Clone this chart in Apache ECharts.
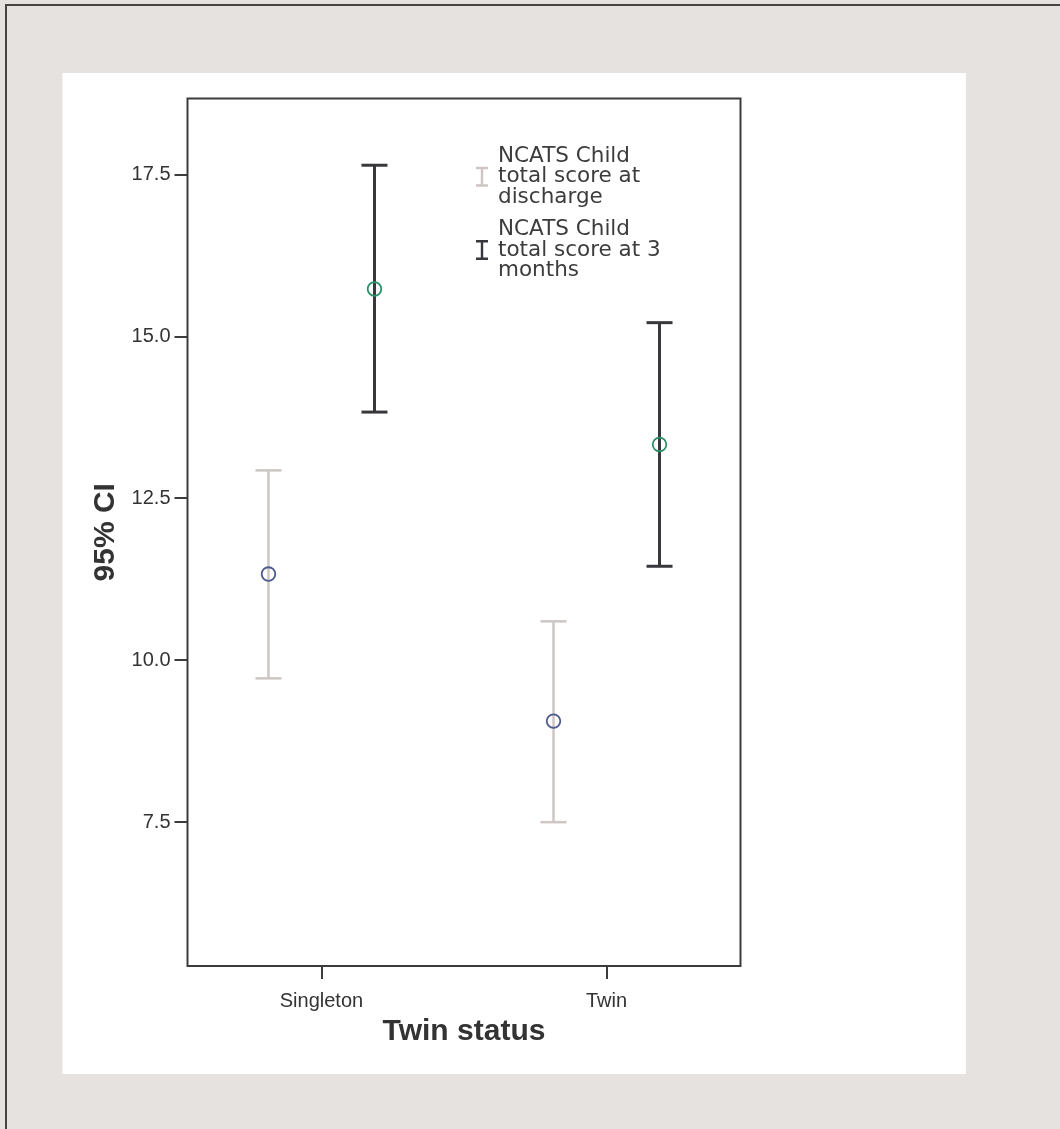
<!DOCTYPE html>
<html>
<head>
<meta charset="utf-8">
<script src="https://cdn.jsdelivr.net/npm/echarts@6/dist/echarts.min.js"></script>
<style>
  html, body { margin: 0; padding: 0; background: #e6e2df; }
  #chart { width: 1060px; height: 1129px; }
</style>
</head>
<body>
<div id="chart"></div>
<script>
// 数据
var categories = ['Singleton', 'Twin'];
var seriesNames = ['NCATS Child\ntotal score at\ndischarge', 'NCATS Child\ntotal score at 3\nmonths'];
// 均值与95%置信区间
var dischargeMean = [11.33, 9.06];
var dischargeLow = [9.72, 7.50];
var dischargeHigh = [12.93, 10.60];
var monthsMean = [15.73, 13.33];
var monthsLow = [13.83, 11.45];
var monthsHigh = [17.64, 15.21];
var yTicks = [7.5, 10.0, 12.5, 15.0, 17.5];

var chart = echarts.init(document.getElementById('chart'));

function buildData(mean, low, high) {
    return categories.map(function (c, i) {
        return [i + 1, low[i], high[i], mean[i]];
    });
}

// 误差线
function errorBar(offset, barColor, barWidth, dotColor) {
    return function (params, api) {
        var x = api.value(0);
        var top = api.coord([x, api.value(2)]);
        var bot = api.coord([x, api.value(1)]);
        var mid = api.coord([x, api.value(3)]);
        var cx = top[0] + offset;
        var half = 13;
        var ls = { stroke: barColor, lineWidth: barWidth };
        return {
            type: 'group',
            children: [
                { type: 'line', shape: { x1: cx, y1: top[1], x2: cx, y2: bot[1] }, style: ls },
                { type: 'line', shape: { x1: cx - half, y1: top[1], x2: cx + half, y2: top[1] }, style: ls },
                { type: 'line', shape: { x1: cx - half, y1: bot[1], x2: cx + half, y2: bot[1] }, style: ls },
                { type: 'circle', shape: { cx: cx, cy: mid[1], r: 6.8 }, style: { fill: 'none', stroke: dotColor, lineWidth: 1.8 } }
            ]
        };
    };
}

var iconI = 'path://M0,0L12,0L12,2.5L7.2,2.5L7.2,17.5L12,17.5L12,20L0,20L0,17.5L4.8,17.5L4.8,2.5L0,2.5Z';

var option = {
    backgroundColor: '#e6e2df',
    animation: false,
    graphic: [
        { type: 'rect', z: -10, shape: { x: 6, y: 5, width: 1200, height: 1300 }, style: { fill: '#e6e2df', stroke: '#454545', lineWidth: 2 } },
        { type: 'rect', z: -9, shape: { x: 62.5, y: 73, width: 903.5, height: 1001 }, style: { fill: '#ffffff' } }
    ],
    grid: {
        left: 187.5,
        top: 98.5,
        right: 319.5,
        bottom: 163,
        show: true,
        backgroundColor: 'transparent',
        borderColor: '#3c3c3c',
        borderWidth: 2
    },
    legend: {
        orient: 'vertical',
        left: 471,
        top: 140,
        itemWidth: 12,
        itemHeight: 20,
        itemGap: 10,
        selectedMode: false,
        textStyle: {
            fontFamily: 'DejaVu Sans',
            fontSize: 21.5,
            lineHeight: 20.7,
            color: '#3c3c3c',
            padding: [0, 0, 0, 5]
        },
        data: [
            { name: seriesNames[0], icon: iconI },
            { name: seriesNames[1], icon: iconI }
        ]
    },
    xAxis: {
        type: 'value',
        min: 0.53,
        max: 2.47,
        splitLine: { show: false },
        axisLine: { show: false },
        axisTick: {
            show: true,
            customValues: [1, 2],
            length: 13,
            lineStyle: { color: '#3c3c3c', width: 2 }
        },
        axisLabel: {
            customValues: [1, 2],
            formatter: function (v) { return categories[Math.round(v) - 1]; },
            margin: 25,
            fontFamily: 'Liberation Sans',
            fontSize: 20,
            color: '#333'
        },
        name: 'Twin status',
        nameLocation: 'middle',
        nameGap: 51,
        nameTextStyle: {
            fontFamily: 'Liberation Sans',
            fontSize: 30,
            fontWeight: 'bold',
            color: '#333'
        }
    },
    yAxis: {
        type: 'value',
        min: 5.28,
        max: 18.67,
        splitLine: { show: false },
        axisLine: { show: false },
        axisTick: {
            show: true,
            customValues: yTicks,
            length: 13,
            lineStyle: { color: '#3c3c3c', width: 2 }
        },
        axisLabel: {
            customValues: yTicks,
            formatter: function (v) { return v.toFixed(1); },
            margin: 17,
            fontFamily: 'Liberation Sans',
            fontSize: 20,
            color: '#333'
        },
        name: '95% CI',
        nameLocation: 'middle',
        nameGap: 61,
        nameTextStyle: {
            fontFamily: 'Liberation Sans',
            fontSize: 30,
            fontWeight: 'bold',
            color: '#333'
        }
    },
    series: [
        {
            name: seriesNames[0],
            type: 'custom',
            itemStyle: { color: '#cdc6c4' },
            renderItem: errorBar(-53, '#cdc6c4', 2.5, '#4d5b8f'),
            encode: { x: 0, y: [1, 2] },
            data: buildData(dischargeMean, dischargeLow, dischargeHigh)
        },
        {
            name: seriesNames[1],
            type: 'custom',
            itemStyle: { color: '#38383c' },
            renderItem: errorBar(53, '#38383c', 3, '#2a9068'),
            encode: { x: 0, y: [1, 2] },
            data: buildData(monthsMean, monthsLow, monthsHigh)
        }
    ]
};

chart.setOption(option);
</script>
</body>
</html>
